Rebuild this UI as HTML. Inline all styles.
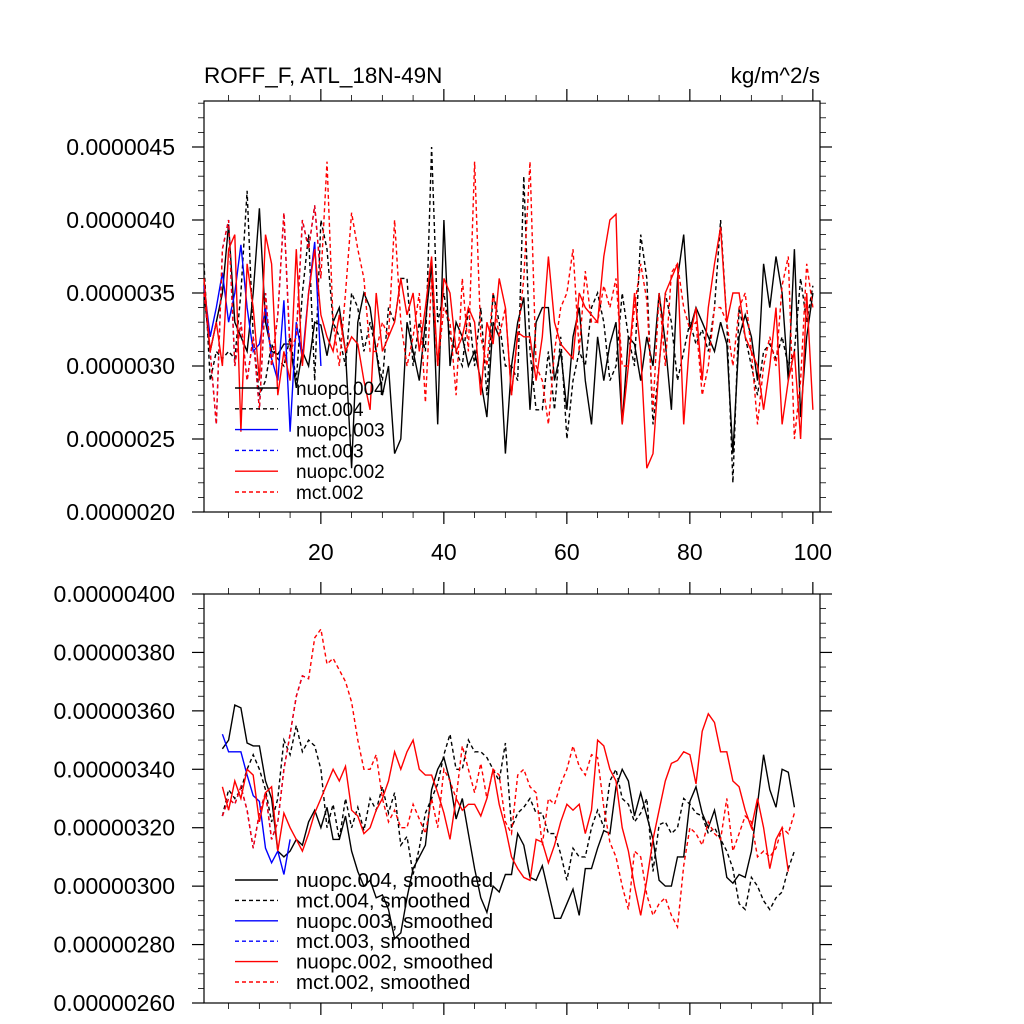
<!DOCTYPE html>
<html><head><meta charset="utf-8">
<style>
html,body{margin:0;padding:0;background:#fff;}
svg{display:block;font-family:"Liberation Sans",sans-serif;}
</style></head>
<body>
<svg id="chart" width="1024" height="1024" viewBox="0 0 1024 1024">
<text x="204" y="83" font-size="22.5">ROFF_F, ATL_18N-49N</text>
<text x="820" y="83" font-size="22.5" text-anchor="end">kg/m^2/s</text>
<g id="top"></g>
<g id="bot"></g>
</svg>
<script>
// Top panel data (units 1e-7 kg/m^2/s), x = 1..N
const nuopc004 = [35,31,33,35,39.7,33,32,31,35,40.8,33,31,30.8,31.5,31.5,28.5,31,30,33,32.8,30.7,33,34,31,23,33,35,34,31,28,30,24,25,33,31,29,33,37,26,40,30,33,32,30,31,29,26.5,33,32,24,30,33,34.7,27,33,34,34,29,31,27,32,34,29,26,32,29,31.5,33,26,32,31.5,29,32,30,35,31.6,27,36,39,32.5,34,33,32,31,33,31.5,24,32,33.5,32,29,37,34,37.5,35,29,38,26.5,32,35];
const mct004 = [37,29,31,30.5,31,30.5,35,42,32,28,29,31.5,30.5,30,32,29,35,39,29,40,38,33,32,30,35,34,31,33,31,29,34,33,36,36,30,33,31,45,33,35,32,31,30,34,30,34,28,35,33,30,30,29,43,31,27,27,31,27,32,25,29,31,30,34,35,33,29,30,35,32,30,39,36,26,30,35,33,29,31,33,31.5,32.5,31,34,40,33,22,34,32,30,28,31,31.5,30.5,32,30,31,36,33,35.5];
const nuopc003 = [35.5,32,34,36.4,33,35,38.3,34,31,31.5,34,30.5,29,34.5,25.5,33,30.5,35,38.5,30];
const mct003 = [35,31,26,38,40,30,33,29,32,27,35,30,33.5,40.5,31,32,40,38,41,36];
const nuopc002 = [36,31,33,30,38,39,25.5,37,34,29,39,37,28,31,29,38,30,35,38,33.5,32,31,33.5,31,32,31.5,29,27,35,31,32,33,36,33.5,35,31,34,37.5,30,36,35,31,32,34,33,28,33,31.5,36,34,28,32.3,32,32,29,32,37.5,33,31.5,31,30.5,35,34,33.5,33,37.5,40,40.4,26,30,35,31,23,24,30,35,36,37,26,32,34,29,34,37,39.5,33,35,35,32,31,30,27,30,34,26,29,31,25,35,27];
const mct002 = [35,31,26,38,40,30,33,29,32,27,35,30,33.5,40.5,31,32,40,38,41,36,44,33,30,35,40.5,38,36,31,31,33,32,40,33,30,32,35,27.5,36,30,34,33,28,36,31,44,32,30,35,32,34,28,32,36,44,30,29,26,31,34,35,38,31,36.5,33,33,35.5,34,36,30,30,34,37,34.5,27,35,30,36.4,37,34,32.5,33,28,30,34,34,33,30,34,35,31,26,30,32,30,35.5,37.5,25,29,37,34];
const topYTicks = [20,25,30,35,40,45];
const topYLabels = ["0.0000020","0.0000025","0.0000030","0.0000035","0.0000040","0.0000045"];
const xTicks = [20,40,60,80,100];
const xLabels = ["20","40","60","80","100"];
// Bottom panel data (units 1e-8), x = 4..
const smNuopc004 = [347,350,362,361,349,348,348,336,330,312,310,312,316,314,322,326,320,327,316,316,324,312,305,300,302,296,297,292,282,284,296,306,310,314,333,340,344,336,323,330,318,306,296,291,300,298,304,304,318,314,303,302,307,298,289,289,294,299,290,306,306,313,319,318,334,340,336,324,332,324,316,302,300,300,310,310,329,334,325,320,326,316,303,301,304,303,312,328,345,333,327,340,339,327];
const smMct004 = [324,333,330,333,340,345,340,333,322,330,350,345,355,346,350,348,340,320,328,316,330,320,327,319,330,326,334,325,332,314,317,304,313,325,330,335,345,352,340,340,350,346,346,344,340,336,349,320,325,327,330,325,325,318,318,311,302,313,310,310,320,326,320,336,340,330,328,322,325,330,305,321,322,318,320,330,328,325,324,318,320,316,312,306,294,292,303,300,295,292,296,298,306,312];
const smNuopc003 = [352,346,346,346,338,331,329,313,308,312,304,316];
const smMct003 = [324,330,328,334,326,313,325,332,316,322,340,352,365,372,371];
const smMct002 = [324,330,328,334,326,313,325,332,316,322,340,352,365,372,371,385,388,376,378,374,370,363,350,340,340,345,330,322,326,320,320,328,323,318,330,320,340,336,330,348,340,332,342,330,340,338,322,318,338,340,334,332,314,330,328,335,340,348,341,338,345,344,327,315,310,300,292,312,310,297,290,294,296,290,286,307,320,318,314,322,318,316,330,312,318,324,322,310,312,310,313,320,318,325];
const smNuopc002 = [334,326,336,330,340,338,322,332,334,312,325,320,316,312,318,325,330,335,340,336,341,326,324,318,320,326,330,336,346,340,346,350,340,338,338,332,325,316,330,326,328,328,324,330,340,328,320,310,306,303,302,316,315,308,314,322,328,326,328,318,326,350,348,340,336,320,312,300,290,302,316,326,336,342,343,346,345,335,353,359,356,346,346,336,334,326,320,330,320,306,316,320,305];
const botYTicks = [260,280,300,320,340,360,380,400];
const botYLabels = ["0.00000260","0.00000280","0.00000300","0.00000320","0.00000340","0.00000360","0.00000380","0.00000400"];

const NS="http://www.w3.org/2000/svg";
function mk(tag,attrs,parent){const e=document.createElementNS(NS,tag);for(const k in attrs)e.setAttribute(k,attrs[k]);parent.appendChild(e);return e;}
const X0=204,X1=820;
const xs = v => 204 + (v-1)*6.15;

function panel(g, top, bottom, ymin, ymax, yTicks, yLabels, minorStep, topLabels, name){
  const ys = v => bottom - (v-ymin)/(ymax-ymin)*(bottom-top);
  const frame = mk('rect',{x:X0,y:top,width:X1-X0,height:bottom-top,fill:'none',stroke:'#000','stroke-width':1.2},g);
  
  
  for(let v=5; v<=100; v+=5){
    const major = v%20===0;
    const L = major?12:6;
    const x=xs(v);
    const t1=mk('line',{x1:x,x2:x,y1:bottom,y2:bottom+L,stroke:'#000','stroke-width':major?1.2:0.8},g);
    
    
    const t2=mk('line',{x1:x,x2:x,y1:top,y2:top-L,stroke:'#000','stroke-width':major?1.2:0.8},g);
    
    
  }
  if(topLabels){
    xTicks.forEach((v,i)=>{
      const t=mk('text',{x:xs(v),y:bottom+48,'font-size':23,'text-anchor':'middle'},g);
      t.textContent=xLabels[i];
      
      
    });
  }
  for(let v=ymin; v<=ymax+1e-9; v+=minorStep){
    const major = yTicks.some(t=>Math.abs(t-v)<1e-6);
    const L = major?12:6;
    const y=ys(v);
    const a=mk('line',{x1:X0,x2:X0-L,y1:y,y2:y,stroke:'#000','stroke-width':major?1.2:0.8},g);
    
    
    const b=mk('line',{x1:X1,x2:X1+L,y1:y,y2:y,stroke:'#000','stroke-width':major?1.2:0.8},g);
    
    
  }
  yTicks.forEach((v,i)=>{
    const t=mk('text',{x:X0-29,y:ys(v)+8,'font-size':23,'text-anchor':'end'},g);
    t.textContent=yLabels[i];
    
    
  });
  return ys;
}

function series(g, data, start, ys, color, dash, name){
  const pts = data.map((v,i)=>xs(start+i).toFixed(1)+','+ys(v).toFixed(1)).join(' ');
  const p=mk('polyline',{points:pts,fill:'none',stroke:color,'stroke-width':1.4,'stroke-dasharray':dash?'4,3':'none'},g);
  
  
}
function legend(g, entries, y0, dy, fs){
  entries.forEach((e,i)=>{
    const y=y0+i*dy;
    const l=mk('line',{x1:235,x2:278,y1:y,y2:y,stroke:e[1],'stroke-width':1.4,'stroke-dasharray':e[2]?'4,3':'none'},g);
    
    
    const t=mk('text',{x:296,y:y+7,'font-size':fs},g);
    t.textContent=e[0];
    
    
  });
}

const gt=document.getElementById('top');
const ysT=panel(gt,101,512,20,48.15,topYTicks,topYLabels,1,true,'top');
series(gt,nuopc004,1,ysT,'#000',false,'line-nuopc004');
series(gt,mct004,1,ysT,'#000',true,'line-mct004');
series(gt,nuopc003,1,ysT,'#00f',false,'line-nuopc003');
series(gt,mct003,1,ysT,'#00f',true,'line-mct003');
series(gt,nuopc002,1,ysT,'#f00',false,'line-nuopc002');
series(gt,mct002,1,ysT,'#f00',true,'line-mct002');
legend(gt,[['nuopc.004','#000',false],['mct.004','#000',true],['nuopc.003','#00f',false],['mct.003','#00f',true],['nuopc.002','#f00',false],['mct.002','#f00',true]],388,20.8,19);

const gb=document.getElementById('bot');
const ysB=panel(gb,594,1003,260,400,botYTicks,botYLabels,5,false,'bottom');
series(gb,smNuopc004,4,ysB,'#000',false,'line-nuopc004-smoothed');
series(gb,smMct004,4,ysB,'#000',true,'line-mct004-smoothed');
series(gb,smNuopc003,4,ysB,'#00f',false,'line-nuopc003-smoothed');
series(gb,smMct003,4,ysB,'#00f',true,'line-mct003-smoothed');
series(gb,smNuopc002,4,ysB,'#f00',false,'line-nuopc002-smoothed');
series(gb,smMct002,4,ysB,'#f00',true,'line-mct002-smoothed');
legend(gb,[['nuopc.004, smoothed','#000',false],['mct.004, smoothed','#000',true],['nuopc.003, smoothed','#00f',false],['mct.003, smoothed','#00f',true],['nuopc.002, smoothed','#f00',false],['mct.002, smoothed','#f00',true]],880,20.4,20.5);
</script>
</body></html>
